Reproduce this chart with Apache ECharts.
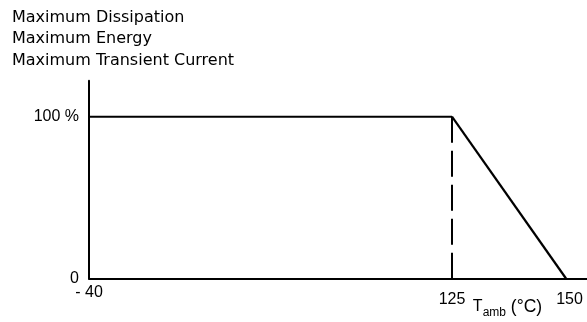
<!DOCTYPE html>
<html>
<head>
<meta charset="utf-8">
<script src="https://cdn.jsdelivr.net/npm/echarts@6/dist/echarts.min.js"></script>
<style>
html,body{margin:0;padding:0;background:#fff;}
#c{width:587px;height:322px;}
</style>
</head>
<body>
<div id="c"></div>
<script>
// Data
const titleLines = ['Maximum Dissipation', 'Maximum Energy', 'Maximum Transient Current'];
const temps = [-40, 125, 150];          // °C
const ratings = [100, 100, 0];          // % of maximum
const yTicks = [0, 100];
const yTickLabels = ['0', '100 %'];
const xTicksLeft = [-40];
const xTickLabelsLeft = ['- 40'];
const xTicksRight = [125, 150];
const xTickLabelsRight = ['125', '150'];

const FONT = 'Liberation Sans';
const INK = '#000';

const leftPts = [[temps[0], ratings[0]], [temps[1], ratings[1]]];
const rightPts = [[temps[1], ratings[1]], [temps[2], ratings[2]]];
const dashPts = [[temps[1], ratings[1]], [temps[1], yTicks[0]]];

const chart = echarts.init(document.getElementById('c'), null, {renderer: 'canvas'});
const yMax = 122.2;

chart.setOption({
  animation: false,
  backgroundColor: '#fff',
  title: {
    text: titleLines.join('\n'),
    left: 12, top: 7, padding: 0,
    textStyle: {fontFamily: 'DejaVu Sans', fontSize: 16, fontWeight: 'normal', color: INK, lineHeight: 21.5}
  },
  grid: [
    {left: 89, top: 80.7, bottom: 43.5, width: 363, containLabel: false, outerBoundsMode: 'none'},
    {left: 452, top: 80.7, bottom: 43.5, right: 0, containLabel: false, outerBoundsMode: 'none'}
  ],
  xAxis: [
    {
      type: 'value', gridIndex: 0, min: -40, max: 125,
      axisLine: {show: true, onZero: false, lineStyle: {color: INK, width: 2}},
      axisTick: {show: false}, splitLine: {show: false},
      axisLabel: {
        customValues: xTicksLeft, margin: 6,
        fontFamily: FONT, fontSize: 16, color: INK,
        formatter: v => xTickLabelsLeft[xTicksLeft.indexOf(v)]
      }
    },
    {
      type: 'value', gridIndex: 1, min: 125, max: 154.6,
      axisLine: {show: true, onZero: false, lineStyle: {color: INK, width: 2}},
      axisTick: {show: false}, splitLine: {show: false},
      axisLabel: {
        customValues: xTicksRight, margin: 13, showMinLabel: true, showMaxLabel: true,
        fontFamily: FONT, fontSize: 16, color: INK,
        formatter: v => v === 150 ? '{r|' + xTickLabelsRight[1] + '}' : '{n|' + xTickLabelsRight[0] + '}',
        rich: {
          r: {fontFamily: FONT, fontSize: 16, color: INK, padding: [0, 0, 0, 7]},
          n: {fontFamily: FONT, fontSize: 16, color: INK}
        }
      },
      name: '{t|T}{s|amb}{u| (°C)}',
      nameLocation: 'middle', nameGap: 20, nameMoveOverlap: false,
      nameTextStyle: {
        padding: [0, 24, 0, 0],
        rich: {
          t: {fontFamily: FONT, fontSize: 16, color: INK, lineHeight: 20, verticalAlign: 'top'},
          u: {fontFamily: FONT, fontSize: 17.5, color: INK, lineHeight: 20, verticalAlign: 'top'},
          s: {fontFamily: FONT, fontSize: 12, color: INK, lineHeight: 12, padding: [14, 0, 0, 0], verticalAlign: 'bottom'}
        }
      }
    }
  ],
  yAxis: [
    {
      type: 'value', gridIndex: 0, min: 0, max: yMax,
      axisLine: {show: true, onZero: false, lineStyle: {color: INK, width: 2}},
      axisTick: {show: false}, splitLine: {show: false},
      axisLabel: {
        customValues: yTicks, margin: 10,
        fontFamily: FONT, fontSize: 16, color: INK,
        formatter: v => yTickLabels[yTicks.indexOf(v)]
      }
    },
    {
      type: 'value', gridIndex: 1, min: 0, max: yMax, show: false
    }
  ],
  series: [
    {
      type: 'line', xAxisIndex: 0, yAxisIndex: 0, data: leftPts,
      symbol: 'none', lineStyle: {color: INK, width: 2}, silent: true
    },
    {
      type: 'line', xAxisIndex: 1, yAxisIndex: 1, data: rightPts,
      symbol: 'none', lineStyle: {color: INK, width: 2.2}, silent: true
    },
    {
      type: 'line', xAxisIndex: 0, yAxisIndex: 0, data: dashPts,
      symbol: 'none', lineStyle: {color: INK, width: 2, type: [26, 8]}, silent: true
    }
  ]
});
</script>
</body>
</html>
